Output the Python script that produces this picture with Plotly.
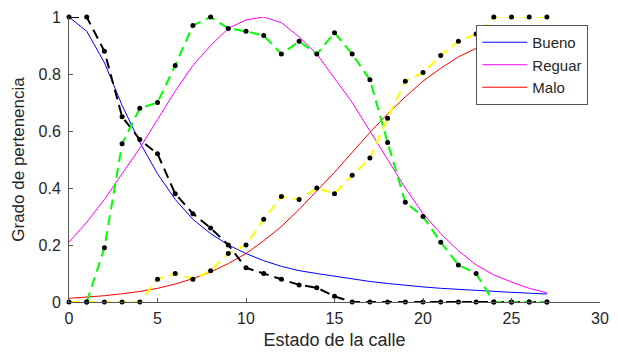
import plotly.graph_objects as go

x = list(range(28))

# Smooth membership curves
bueno = [1.0, 0.95, 0.84, 0.69, 0.56, 0.45, 0.36, 0.29, 0.24, 0.20, 0.17, 0.145, 0.125, 0.11,
         0.10, 0.09, 0.08, 0.072, 0.065, 0.058, 0.053, 0.048, 0.044, 0.040, 0.037, 0.034, 0.031, 0.028]
reguar = [0.21, 0.28, 0.36, 0.45, 0.54, 0.64, 0.74, 0.83, 0.90, 0.96, 0.99, 1.0, 0.98, 0.93,
          0.87, 0.785, 0.70, 0.60, 0.50, 0.40, 0.31, 0.24, 0.18, 0.13, 0.095, 0.07, 0.048, 0.032]
malo = [0.013, 0.017, 0.022, 0.029, 0.037, 0.048, 0.063, 0.082, 0.105, 0.135, 0.17, 0.215, 0.265, 0.325,
        0.39, 0.455, 0.525, 0.595, 0.66, 0.72, 0.775, 0.82, 0.86, 0.89, 0.915, 0.935, 0.95, 0.962]

# Observed (dashed) series
obs_bueno = [1.0, 1.0, 0.88, 0.65, 0.57, 0.52, 0.38, 0.31, 0.26, 0.20, 0.12, 0.10, 0.08, 0.06,
             0.05, 0.02, 0.0, 0.0, 0.0, 0.0, 0.0, 0.0, 0.0, 0.0, 0.0, 0.0, 0.0, 0.0]
x_reguar = list(range(1, 28))
obs_reguar = [0.0, 0.19, 0.555, 0.68, 0.70, 0.83, 0.97, 1.0, 0.96, 0.95, 0.935, 0.87, 0.915, 0.87,
              0.945, 0.87, 0.78, 0.56, 0.35, 0.30, 0.21, 0.13, 0.10, 0.0, 0.0, 0.0, 0.0]
obs_malo = [0.0, 0.0, 0.0, 0.0, 0.0, 0.08, 0.10, 0.08, 0.11, 0.17, 0.20, 0.29, 0.37, 0.36,
            0.40, 0.38, 0.445, 0.505, 0.645, 0.775, 0.805, 0.865, 0.915, 0.94, 1.0, 1.0, 1.0, 1.0]

xticks = [0, 5, 10, 15, 20, 25, 30]
yticks = [0, 0.2, 0.4, 0.6, 0.8, 1]
ytick_text = ["0", "0.2", "0.4", "0.6", "0.8", "1"]

FONT = "Liberation Sans, Arial, sans-serif"
TXT = "#262626"
AX = "#555555"

fig = go.Figure()
fig.add_trace(go.Scatter(x=x, y=bueno, mode="lines", name="Bueno",
                         line=dict(color="#0000ff", width=1), cliponaxis=False))
fig.add_trace(go.Scatter(x=x, y=reguar, mode="lines", name="Reguar",
                         line=dict(color="#ff00ff", width=1), cliponaxis=False))
fig.add_trace(go.Scatter(x=x, y=malo, mode="lines", name="Malo",
                         line=dict(color="#ff0000", width=1), cliponaxis=False))

dash = "10px,6px"
fig.add_trace(go.Scatter(x=x, y=obs_bueno, mode="lines+markers", showlegend=False,
                         line=dict(color="#000000", width=2, dash=dash),
                         marker=dict(color="#000000", size=5), cliponaxis=False))
fig.add_trace(go.Scatter(x=x_reguar, y=obs_reguar, mode="lines+markers", showlegend=False,
                         line=dict(color="#00ff00", width=2, dash=dash),
                         marker=dict(color="#000000", size=5), cliponaxis=False))
fig.add_trace(go.Scatter(x=x, y=obs_malo, mode="lines+markers", showlegend=False,
                         line=dict(color="#ffff00", width=2, dash=dash),
                         marker=dict(color="#000000", size=5), cliponaxis=False))

fig.update_layout(
    width=618, height=356,
    margin=dict(l=69, r=9, t=14, b=54),
    paper_bgcolor="white", plot_bgcolor="white",
    font=dict(family=FONT, size=16, color=TXT),
    showlegend=True,
    legend=dict(x=0.978, y=0.972, xanchor="right", yanchor="top",
                bgcolor="white", bordercolor=AX, borderwidth=1,
                font=dict(family=FONT, size=15, color=TXT),
                itemwidth=45, tracegroupgap=0),
    xaxis=dict(range=[0, 30], tickvals=xticks, ticks="inside", ticklen=4,
               tickcolor=AX, showline=True, linecolor=AX, linewidth=1,
               showgrid=False, zeroline=False, mirror=False,
               tickfont=dict(size=16, color=TXT), ticklabelstandoff=2,
               title=dict(text="Estado de la calle", font=dict(size=18, color=TXT), standoff=7)),
    yaxis=dict(range=[0, 1], tickvals=yticks, ticktext=ytick_text, ticks="inside", ticklen=4,
               tickcolor=AX, showline=True, linecolor=AX, linewidth=1,
               showgrid=False, zeroline=False, mirror=False,
               tickfont=dict(size=16, color=TXT), ticklabelstandoff=4,
               title=dict(text="Grado de pertenencia", font=dict(size=17, color=TXT), standoff=9)),
)

fig.write_html("out.html")
